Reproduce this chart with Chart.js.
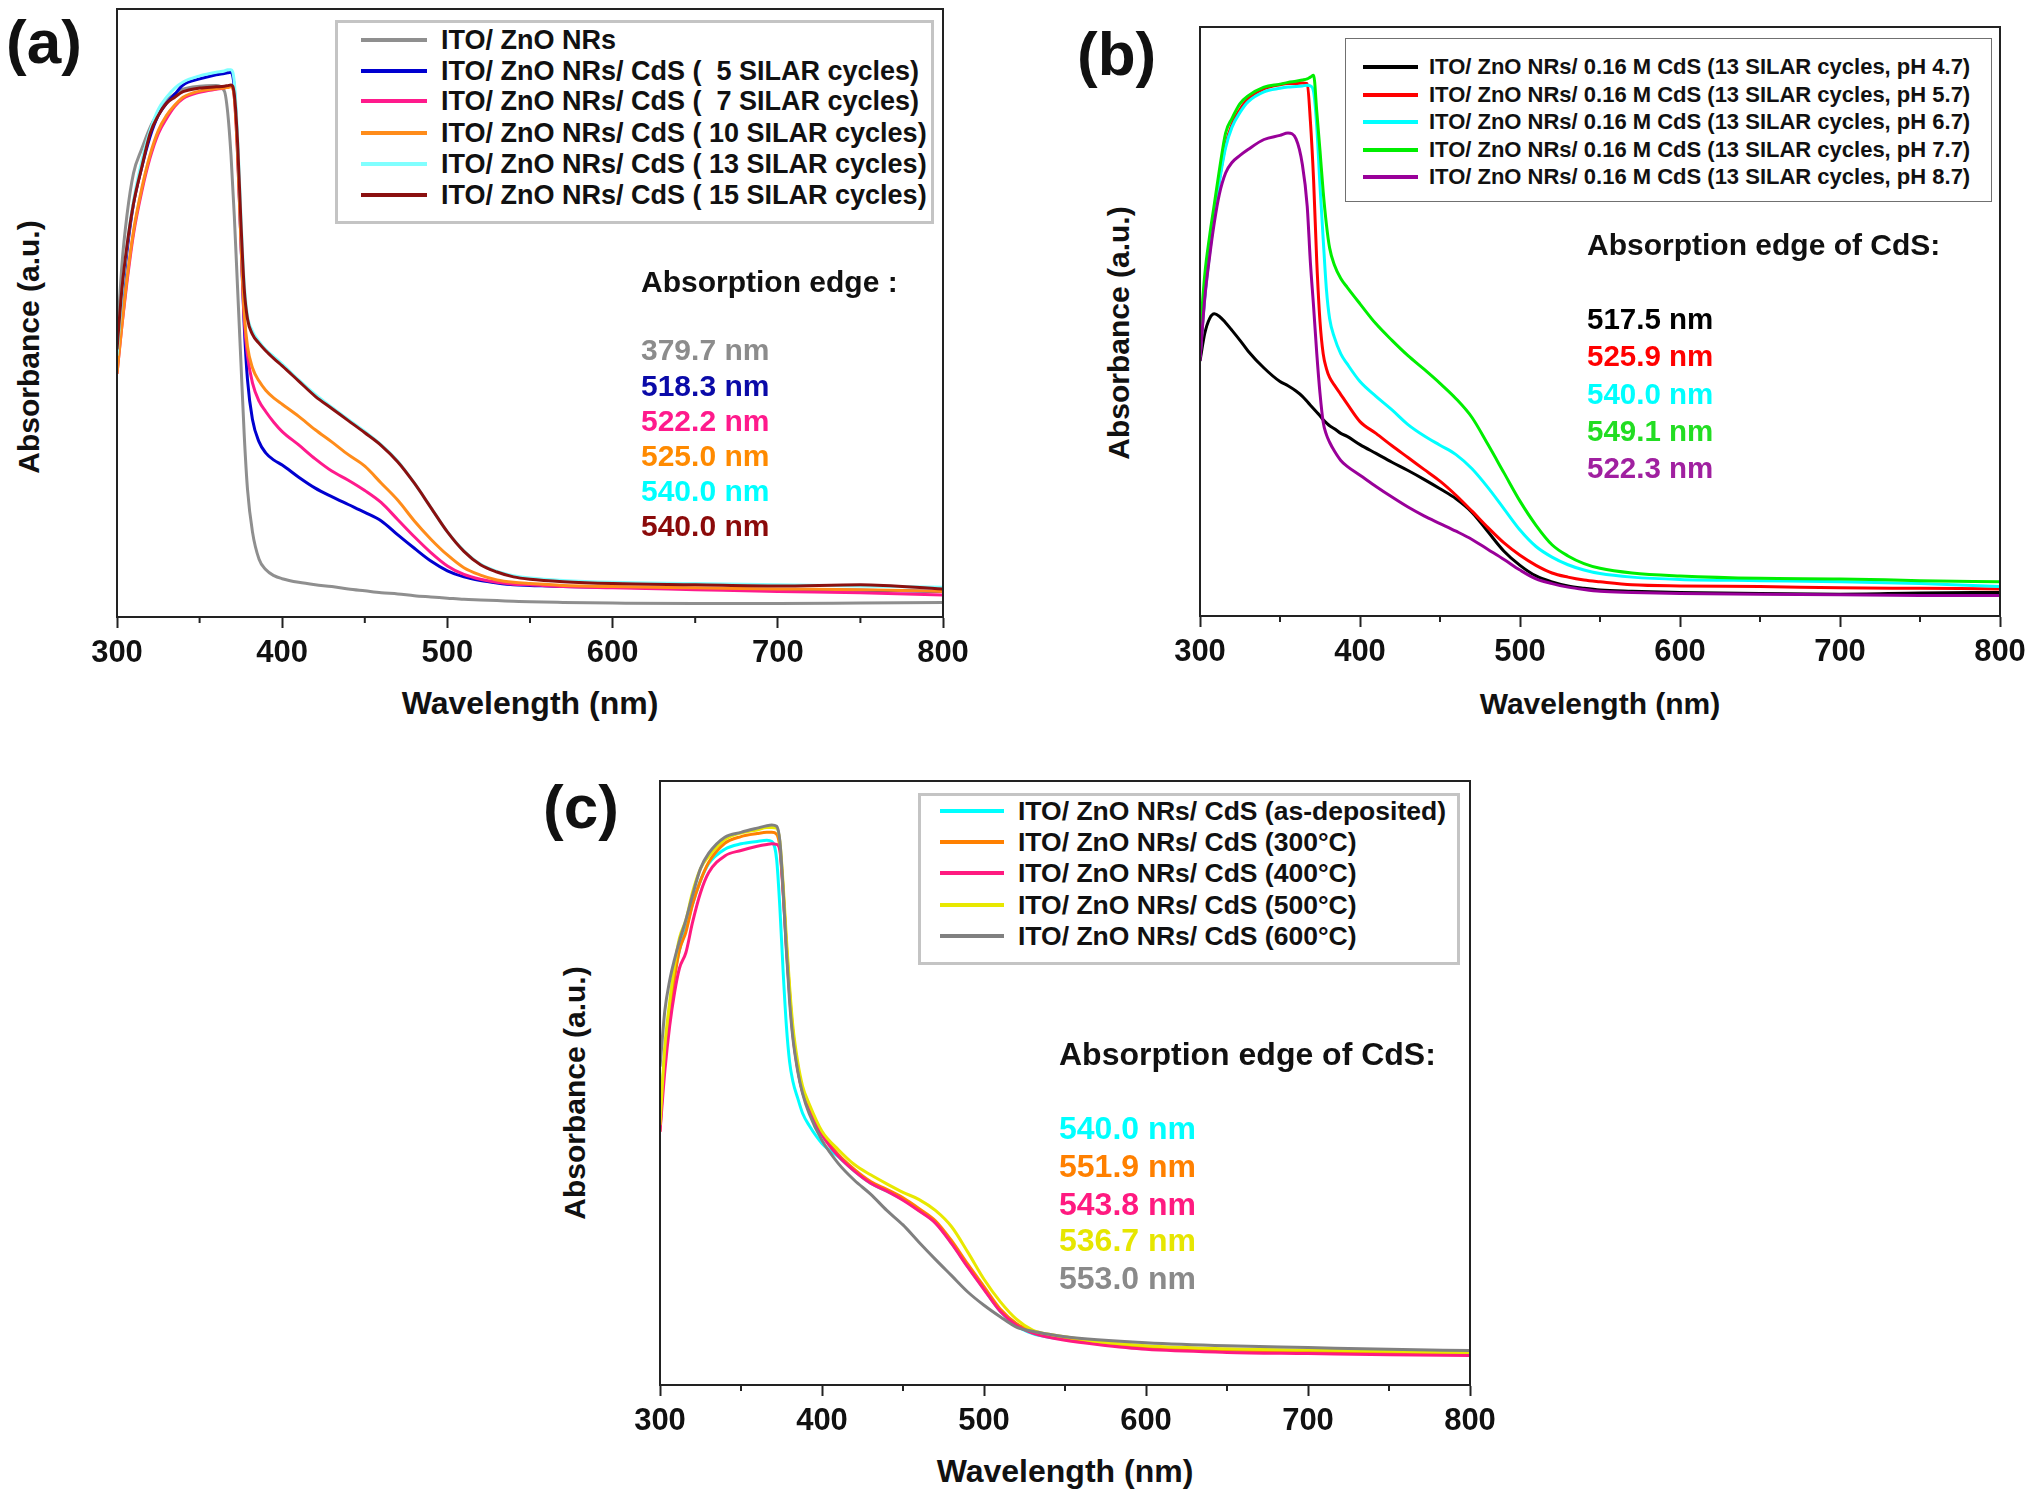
<!DOCTYPE html>
<html>
<head>
<meta charset="utf-8">
<script src="https://cdn.jsdelivr.net/npm/chart.js@4.4.1/dist/chart.umd.min.js"></script>
<style>
  html, body { margin: 0; padding: 0; background: #fff; }
  body { width: 2032px; height: 1493px; position: relative; overflow: hidden;
         font-family: "Liberation Sans", Arial, sans-serif; font-weight: bold; color: #111; }
  .box { position: absolute; }
  .t  { position: absolute; white-space: pre; line-height: 1; transform: translateY(-50%); }
  .tc { position: absolute; white-space: pre; line-height: 1; transform: translate(-50%, -50%); }
  .tv { position: absolute; white-space: pre; line-height: 1; transform: translate(-50%, -50%) rotate(-90deg); }
  .leg { position: absolute; box-sizing: border-box; background: #fff; }
  .sw { position: absolute; height: 4px; transform: translateY(-50%); }
</style>
</head>
<body>
<script>
// ---------- (a) CdS SILAR cycles ----------
var wlA = [300, 303, 306, 310, 315, 320, 325, 330, 335, 340, 350, 360, 365, 367, 369, 371, 373, 375, 377, 379,
  382, 386, 390, 395, 400, 410, 420, 430, 440, 450, 460, 470, 480, 490, 500, 510, 520, 530, 540, 550,
  570, 600, 650, 700, 750, 800];
var aZnO = [45, 58, 66, 73, 77, 80.5, 83, 85, 86, 86.8, 87.3, 87.4, 86.5, 83, 76, 66, 54, 42, 30, 21,
  14, 9.5, 7.8, 6.8, 6.3, 5.7, 5.3, 5.0, 4.6, 4.3, 4.0, 3.8, 3.5, 3.3, 3.1, 2.9, 2.8, 2.7, 2.6, 2.5,
  2.4, 2.3, 2.2, 2.2, 2.3, 2.4];
var a5 = [42, 52, 60, 68, 74, 79, 82.5, 84.5, 86, 87.5, 88.5, 89.2, 89.4, 89.5, 89.6, 87, 77, 62, 48, 39,
  32.5, 28.8, 27, 25.8, 25, 23, 21.2, 19.8, 18.5, 17.2, 15.8, 13.5, 11.3, 9.2, 7.6, 6.6, 6.0, 5.6, 5.3, 5.2,
  5.0, 4.9, 4.7, 4.5, 4.4, 4.2];
var a7 = [40, 48, 55, 63, 70, 75.5, 79.5, 82, 84, 85.3, 86.3, 86.8, 87, 87.2, 87.3, 85.5, 76, 62, 49, 43,
  38.5, 35.5, 33.8, 32, 30.5, 28.3, 26, 24, 22.5, 20.8, 18.8, 16, 13.2, 10.6, 8.4, 7.0, 6.2, 5.7, 5.4, 5.3,
  5.0, 4.8, 4.5, 4.2, 4.0, 3.6];
var a10 = [40, 48, 55.5, 63.5, 70.5, 76, 80, 82.5, 84.2, 85.5, 86.5, 86.9, 87, 87.1, 87.2, 85.5, 76, 62, 50, 44.5,
  41, 38.8, 37.3, 36, 35, 33, 30.8, 28.8, 26.7, 24.8, 22, 19.2, 15.8, 12.8, 10.2, 8.1, 6.9, 6.1, 5.7, 5.5,
  5.2, 5.0, 4.8, 4.6, 4.5, 4.2];
var a13 = [43, 53, 61, 68.5, 75, 80, 83.5, 85.5, 87, 88, 89, 89.6, 89.8, 90, 90, 88, 79, 66, 55, 49.5,
  47, 45.3, 44, 42.8, 41.6, 39, 36.6, 34.5, 32.5, 30.5, 28.3, 25.6, 22, 18, 14, 10.9, 8.7, 7.5, 6.8, 6.4,
  6.0, 5.7, 5.5, 5.3, 5.1, 4.9];
var a15 = [44, 54, 61, 68, 74, 79.5, 82.5, 84.5, 85.5, 86.4, 87, 87.2, 87.3, 87.4, 87.5, 86, 78, 65, 54, 49,
  46.5, 45, 43.8, 42.5, 41.3, 38.8, 36.3, 34.3, 32.3, 30.3, 28.2, 25.5, 22, 18, 14, 10.8, 8.6, 7.4, 6.6, 6.2,
  5.8, 5.5, 5.3, 5.1, 5.3, 4.6];
var namesA = ["ITO/ ZnO NRs", "ITO/ ZnO NRs/ CdS (  5 SILAR cycles)", "ITO/ ZnO NRs/ CdS (  7 SILAR cycles)",
  "ITO/ ZnO NRs/ CdS ( 10 SILAR cycles)", "ITO/ ZnO NRs/ CdS ( 13 SILAR cycles)", "ITO/ ZnO NRs/ CdS ( 15 SILAR cycles)"];
var edgeA = ["379.7 nm", "518.3 nm", "522.2 nm", "525.0 nm", "540.0 nm", "540.0 nm"];
var lineColA = ["#8f8f8f", "#0000d0", "#ff1a8c", "#ff8c1a", "#80ffff", "#8b1010"];
var textColA = ["#8c8c8c", "#0a0aa8", "#ff1a8c", "#ff8a00", "#00ffff", "#8b0a0a"];

// ---------- (b) pH series ----------
var wlB = [300, 303, 306, 309, 312, 316, 320, 325, 330, 340, 350, 355, 360, 364, 367, 369, 371, 373, 375, 377,
  379, 381, 384, 388, 392, 400, 410, 420, 430, 440, 450, 460, 470, 480, 490, 500, 510, 520, 530, 540,
  550, 570, 600, 650, 700, 750, 800];
var bPH47 = [43.3, 48, 50.5, 51.3, 50.9, 49.8, 48.5, 46.8, 45, 42.1, 39.8, 39.1, 38.2, 37.3, 36.4, 35.8, 35.2, 34.6, 34, 33.3,
  32.8, 32.3, 31.8, 31.0, 30.5, 29.1, 27.6, 26.1, 24.7, 23.2, 21.6, 19.9, 17.6, 14.3, 11.0, 8.6, 6.8, 5.8, 5.1, 4.7,
  4.4, 4.2, 4.0, 3.8, 3.7, 3.9, 4.0];
var bPH57 = [44, 54.4, 62, 68.5, 74, 80, 83.5, 86, 87.8, 89.5, 90.2, 90.4, 90.4, 90.5, 90.4, 84, 74, 60, 50, 44.5,
  42, 40.5, 39.2, 37.6, 36, 33, 31, 28.9, 26.9, 24.9, 22.9, 20.5, 17.8, 15, 12.4, 10.3, 8.6, 7.3, 6.6, 6.1,
  5.8, 5.3, 5.1, 5.0, 4.8, 4.7, 4.6];
var bPH67 = [44, 54, 61.5, 68, 73.5, 79.5, 83, 85.5, 87.3, 89, 89.6, 89.8, 89.9, 90, 90.1, 90, 89, 83, 73, 64,
  55.5, 50.5, 47.3, 44.5, 42.8, 39.8, 37.3, 35, 32.5, 30.6, 29, 27.4, 25, 21.8, 18.2, 14.6, 11.8, 10, 8.7, 7.8,
  7.2, 6.6, 6.2, 6.0, 5.8, 5.5, 5.0];
var bPH77 = [47.5, 58, 64.5, 70, 75.5, 82, 84.5, 87, 88.3, 89.8, 90.3, 90.6, 90.8, 91, 91.2, 91.5, 91.8, 85.6, 79, 72,
  66.5, 62.5, 59.6, 57.3, 55.8, 53, 49.6, 46.8, 44.2, 41.9, 39.5, 36.9, 33.7, 29.1, 24.3, 19.5, 15.4, 12.1, 10.2, 8.9,
  8.1, 7.3, 6.8, 6.4, 6.3, 6.0, 5.8];
var bPH87 = [43.3, 54, 61, 66.9, 71.5, 75.2, 77, 78.2, 79.2, 80.9, 81.6, 82, 81, 76.6, 69.6, 60, 52.5, 44.5, 37.8, 32.9,
  30.8, 29.5, 28, 26.4, 25.4, 23.9, 22, 20.2, 18.5, 17, 15.7, 14.4, 13, 11.3, 9.6, 7.8, 6.3, 5.5, 4.9, 4.5,
  4.2, 4.0, 3.8, 3.7, 3.6, 3.5, 3.5];
var namesB = ["ITO/ ZnO NRs/ 0.16 M CdS (13 SILAR cycles, pH 4.7)", "ITO/ ZnO NRs/ 0.16 M CdS (13 SILAR cycles, pH 5.7)",
  "ITO/ ZnO NRs/ 0.16 M CdS (13 SILAR cycles, pH 6.7)", "ITO/ ZnO NRs/ 0.16 M CdS (13 SILAR cycles, pH 7.7)",
  "ITO/ ZnO NRs/ 0.16 M CdS (13 SILAR cycles, pH 8.7)"];
var edgeB = ["517.5 nm", "525.9 nm", "540.0 nm", "549.1 nm", "522.3 nm"];
var lineColB = ["#000000", "#ff0000", "#00ffff", "#00ee00", "#990099"];
var textColB = ["#000000", "#ff0000", "#00ffff", "#22dd22", "#a020a0"];

// ---------- (c) annealing temperature ----------
var wlC = [300, 303, 306, 309, 312, 316, 320, 325, 330, 340, 350, 360, 366, 369, 372, 374, 376, 378, 380, 382,
  385, 388, 392, 400, 410, 420, 430, 440, 450, 460, 470, 480, 490, 500, 510, 520, 530, 540, 550, 570,
  600, 650, 700, 750, 800];
var cAsDep = [43, 55, 62, 68, 72, 75.5, 79.5, 83.5, 86.3, 88.7, 89.6, 90, 90.2, 90, 87, 79, 68.5, 59.5, 53.5, 50.3,
  47.5, 45, 43, 40, 37.8, 35.4, 33.4, 32.1, 30.7, 28.9, 26.9, 23.5, 19.6, 15.9, 12.2, 9.8, 8.5, 7.9, 7.6, 7.0,
  6.2, 5.6, 5.4, 5.3, 5.2];
var c300 = [42, 55, 62, 67.5, 72, 75, 79.5, 83.5, 86.5, 89.7, 90.8, 91.3, 91.5, 91.5, 91.2, 89, 82, 73, 65, 58.5,
  52.5, 48.6, 45.8, 41.6, 38.2, 35.7, 33.7, 32.4, 31, 29.2, 27.2, 23.9, 20, 16.3, 12.6, 10.2, 8.9, 8.2, 7.7, 7.0,
  6.3, 5.8, 5.6, 5.4, 5.3];
var c400 = [41.9, 52, 59.5, 65, 69, 71.6, 76.5, 81.5, 84.8, 87.6, 88.5, 89.2, 89.5, 89.6, 89.5, 88.5, 81.5, 72.5, 64.5, 58,
  52.3, 48.5, 45.7, 41.4, 37.9, 35.4, 33.4, 32.1, 30.6, 28.8, 26.8, 23.4, 19.5, 15.8, 12.2, 9.9, 8.6, 7.9, 7.4, 6.7,
  5.9, 5.4, 5.2, 5.0, 4.9];
var c500 = [43, 56, 63.5, 69.5, 74, 77, 81.5, 85.5, 87.5, 90.3, 91.4, 91.9, 92.3, 92.3, 92.2, 90, 83, 74, 66, 59.5,
  53.5, 49.5, 46.6, 42, 39, 36.5, 34.8, 33.3, 31.9, 30.7, 28.9, 26.2, 22, 17.5, 13.8, 10.9, 9.1, 8.4, 8.0, 7.2,
  6.5, 6.0, 5.8, 5.6, 5.4];
var c600 = [52.7, 62, 67, 70.5, 73.5, 77, 81, 85.5, 88, 90.7, 91.5, 92.2, 92.6, 92.7, 92.5, 90, 82, 72, 63.5, 57.5,
  52, 48.3, 45, 40.5, 36.7, 33.9, 31.6, 28.9, 26.5, 23.6, 20.8, 18.1, 15.4, 13.2, 11.3, 9.6, 8.9, 8.4, 8.0, 7.5,
  7.0, 6.5, 6.2, 5.9, 5.7];
var namesC = ["ITO/ ZnO NRs/ CdS (as-deposited)", "ITO/ ZnO NRs/ CdS (300°C)", "ITO/ ZnO NRs/ CdS (400°C)",
  "ITO/ ZnO NRs/ CdS (500°C)", "ITO/ ZnO NRs/ CdS (600°C)"];
var edgeC = ["540.0 nm", "551.9 nm", "543.8 nm", "536.7 nm", "553.0 nm"];
var lineColC = ["#00ffff", "#ff8000", "#ff1a80", "#e8e800", "#808080"];
var textColC = ["#00ffff", "#ff8000", "#ff1a80", "#e6e600", "#8a8a8a"];

var xTicks = { min: 300, max: 800, step: 100, minor: 50 };
var FONT = '"Liberation Sans", Arial, sans-serif';

// frame round the plot + short minor ticks, placed through the x scale
var framePlugin = {
  id: "frame",
  afterDraw: function (chart) {
    var a = chart.chartArea, ctx = chart.ctx, xs = chart.scales.x;
    ctx.save();
    ctx.strokeStyle = "#222";
    ctx.lineWidth = 2;
    ctx.strokeRect(a.left, a.top, a.right - a.left, a.bottom - a.top);
    ctx.beginPath();
    for (var v = xTicks.min + xTicks.minor; v < xTicks.max; v += xTicks.step) {
      var px = xs.getPixelForValue(v);
      ctx.moveTo(px, a.bottom);
      ctx.lineTo(px, a.bottom + 6);
    }
    ctx.stroke();
    ctx.restore();
  }
};

function addText(str, x, y, size, color, cls) {
  var d = document.createElement("div");
  d.className = cls || "t";
  d.textContent = str;
  d.style.left = x + "px";
  d.style.top = y + "px";
  d.style.fontSize = size + "px";
  if (color) d.style.color = color;
  document.body.appendChild(d);
  return d;
}

function makeChart(p) {
  var padL = 45, padR = 45, padT = 5, axisH = 60;
  var div = document.createElement("div");
  div.className = "box";
  div.style.left = (p.l - padL) + "px";
  div.style.top = (p.t - padT) + "px";
  div.style.width = (p.r - p.l + padL + padR) + "px";
  div.style.height = (p.b - p.t + padT + axisH) + "px";
  var cv = document.createElement("canvas");
  div.appendChild(cv);
  document.body.appendChild(div);

  var n = p.series.length;
  var datasets = p.series.map(function (s, i) {
    return {
      label: p.names[i],
      data: p.wl.map(function (w, k) { return { x: w, y: s[k] }; }),
      borderColor: p.colors[i], backgroundColor: p.colors[i],
      borderWidth: 3, pointRadius: 0, fill: false,
      cubicInterpolationMode: "monotone",
      order: n - i
    };
  });

  new Chart(cv, {
    type: "line",
    data: { datasets: datasets },
    options: {
      responsive: true, maintainAspectRatio: false, animation: false,
      layout: { padding: { left: padL, right: padR, top: padT, bottom: 0 } },
      plugins: { legend: { display: false }, tooltip: { enabled: false } },
      scales: {
        x: {
          type: "linear", min: xTicks.min, max: xTicks.max,
          ticks: { stepSize: xTicks.step, padding: 7, color: "#111", font: { family: FONT, size: 31, weight: "bold" } },
          grid: { drawOnChartArea: false, tickLength: 11, tickWidth: 2, tickColor: "#222" },
          border: { color: "#222", width: 2 },
          afterFit: function (s) { s.height = axisH; }
        },
        y: { display: false, min: 0, max: 100 }
      }
    },
    plugins: [framePlugin]
  });
}

function makeLegend(g) {
  var box = document.createElement("div");
  box.className = "leg";
  box.style.left = g.x0 + "px";
  box.style.top = g.y0 + "px";
  box.style.width = (g.x1 - g.x0) + "px";
  box.style.height = (g.y1 - g.y0) + "px";
  box.style.border = g.border;
  document.body.appendChild(box);
  g.names.forEach(function (name, i) {
    var sw = document.createElement("div");
    sw.className = "sw";
    sw.style.left = g.swL + "px";
    sw.style.width = (g.swR - g.swL) + "px";
    sw.style.top = g.rows[i] + "px";
    sw.style.background = g.colors[i];
    document.body.appendChild(sw);
    addText(name, g.textX, g.rows[i], g.size, "#111");
  });
}

function makeNotes(nt) {
  addText(nt.head, nt.x, nt.headY, nt.headSize, "#111");
  nt.items.forEach(function (s, i) { addText(s, nt.x, nt.ys[i], nt.size, nt.colors[i]); });
}

// ---- panel (a)
makeChart({ l: 117, t: 9, r: 943, b: 617, wl: wlA, series: [aZnO, a5, a7, a10, a13, a15], names: namesA, colors: lineColA });
makeLegend({ x0: 335, y0: 20, x1: 934, y1: 224, border: "3px solid #c4c4c4", names: namesA, colors: lineColA,
  rows: [40, 71, 101, 133, 164, 195], swL: 361, swR: 427, textX: 441, size: 27 });
makeNotes({ head: "Absorption edge :", x: 641, headY: 282, headSize: 30, size: 30, items: edgeA, colors: textColA,
  ys: [350, 386, 421, 456, 491, 526] });
addText("(a)", 6, 42, 62, "#111");
addText("Wavelength (nm)", 530, 703, 32, "#111", "tc");
addText("Absorbance (a.u.)", 29, 347, 30, "#111", "tv");

// ---- panel (b)
makeChart({ l: 1200, t: 27, r: 2000, b: 616, wl: wlB, series: [bPH47, bPH57, bPH67, bPH77, bPH87], names: namesB, colors: lineColB });
makeLegend({ x0: 1345, y0: 38, x1: 1992, y1: 202, border: "1.5px solid #707070", names: namesB, colors: lineColB,
  rows: [67, 94.5, 122, 150, 177], swL: 1363, swR: 1418, textX: 1429, size: 22 });
makeNotes({ head: "Absorption edge of CdS:", x: 1587, headY: 245, headSize: 30, size: 29.5, items: edgeB, colors: textColB,
  ys: [319, 356, 394, 431, 468] });
addText("(b)", 1077, 54, 62, "#111");
addText("Wavelength (nm)", 1600, 704, 30, "#111", "tc");
addText("Absorbance (a.u.)", 1119, 333, 30, "#111", "tv");

// ---- panel (c)
makeChart({ l: 660, t: 781, r: 1470, b: 1385, wl: wlC, series: [cAsDep, c300, c400, c500, c600], names: namesC, colors: lineColC });
makeLegend({ x0: 918, y0: 793, x1: 1460, y1: 965, border: "3px solid #c4c4c4", names: namesC, colors: lineColC,
  rows: [811, 842, 873, 905, 936], swL: 940, swR: 1004, textX: 1018, size: 26.5 });
makeNotes({ head: "Absorption edge of CdS:", x: 1059, headY: 1054, headSize: 32, size: 32, items: edgeC, colors: textColC,
  ys: [1128, 1166, 1204, 1240, 1278] });
addText("(c)", 543, 807, 62, "#111");
addText("Wavelength (nm)", 1065, 1471, 32, "#111", "tc");
addText("Absorbance (a.u.)", 575, 1093, 30, "#111", "tv");
</script>
</body>
</html>
